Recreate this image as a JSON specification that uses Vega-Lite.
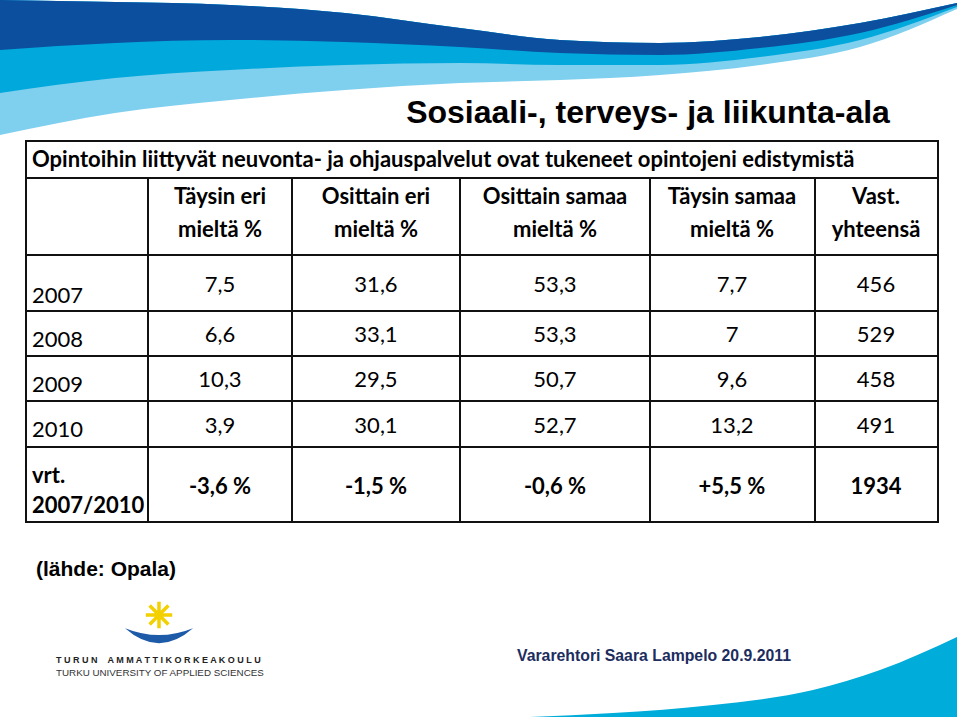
{
  "$schema": "https://vega.github.io/schema/vega-lite/v6.json",
  "width": 960,
  "height": 720,
  "autosize": {"type": "none"},
  "padding": 0,
  "background": "white",
  "config": {
    "view": {"stroke": null},
    "locale": {"number": {"decimal": ",", "thousands": " ", "grouping": [3], "currency": ["", " €"], "minus": "-"}}
  },
  "datasets": {
    "aalto": [
      {"x": 0, "y0": 0, "y1": 50, "y2": 93, "y3": 135},
      {"x": 115, "y0": 2, "y1": 43, "y2": 78, "y3": 113},
      {"x": 230, "y0": 5, "y1": 40, "y2": 70, "y3": 100},
      {"x": 345, "y0": 13, "y1": 42, "y2": 65, "y3": 90},
      {"x": 460, "y0": 28, "y1": 47, "y2": 63, "y3": 83},
      {"x": 560, "y0": 40, "y1": 53, "y2": 65, "y3": 80},
      {"x": 660, "y0": 43, "y1": 55, "y2": 65, "y3": 75},
      {"x": 760, "y0": 37, "y1": 48, "y2": 57, "y3": 65},
      {"x": 860, "y0": 23, "y1": 33, "y2": 40, "y3": 47},
      {"x": 957, "y0": 3, "y1": 5, "y2": 7, "y3": 9}
    ],
    "alaaalto": [
      {"x": 530, "y": 717},
      {"x": 613, "y": 713},
      {"x": 713, "y": 705},
      {"x": 813, "y": 690},
      {"x": 880, "y": 670},
      {"x": 957, "y": 637}
    ],
    "taulukko": [
      {"rivi": 2, "vuosi": "2007", "sarake": 1, "arvo": 7.5},
      {"rivi": 2, "vuosi": "2007", "sarake": 2, "arvo": 31.6},
      {"rivi": 2, "vuosi": "2007", "sarake": 3, "arvo": 53.3},
      {"rivi": 2, "vuosi": "2007", "sarake": 4, "arvo": 7.7},
      {"rivi": 2, "vuosi": "2007", "sarake": 5, "arvo": 456},
      {"rivi": 3, "vuosi": "2008", "sarake": 1, "arvo": 6.6},
      {"rivi": 3, "vuosi": "2008", "sarake": 2, "arvo": 33.1},
      {"rivi": 3, "vuosi": "2008", "sarake": 3, "arvo": 53.3},
      {"rivi": 3, "vuosi": "2008", "sarake": 4, "arvo": 7},
      {"rivi": 3, "vuosi": "2008", "sarake": 5, "arvo": 529},
      {"rivi": 4, "vuosi": "2009", "sarake": 1, "arvo": 10.3},
      {"rivi": 4, "vuosi": "2009", "sarake": 2, "arvo": 29.5},
      {"rivi": 4, "vuosi": "2009", "sarake": 3, "arvo": 50.7},
      {"rivi": 4, "vuosi": "2009", "sarake": 4, "arvo": 9.6},
      {"rivi": 4, "vuosi": "2009", "sarake": 5, "arvo": 458},
      {"rivi": 5, "vuosi": "2010", "sarake": 1, "arvo": 3.9},
      {"rivi": 5, "vuosi": "2010", "sarake": 2, "arvo": 30.1},
      {"rivi": 5, "vuosi": "2010", "sarake": 3, "arvo": 52.7},
      {"rivi": 5, "vuosi": "2010", "sarake": 4, "arvo": 13.2},
      {"rivi": 5, "vuosi": "2010", "sarake": 5, "arvo": 491},
      {"rivi": 6, "vuosi": "vrt. 2007/2010", "sarake": 1, "arvo": -3.6},
      {"rivi": 6, "vuosi": "vrt. 2007/2010", "sarake": 2, "arvo": -1.5},
      {"rivi": 6, "vuosi": "vrt. 2007/2010", "sarake": 3, "arvo": -0.6},
      {"rivi": 6, "vuosi": "vrt. 2007/2010", "sarake": 4, "arvo": 5.5},
      {"rivi": 6, "vuosi": "vrt. 2007/2010", "sarake": 5, "arvo": 1934}
    ],
    "sarakkeet": [
      {"sarake": 1, "otsikko": "Täysin eri\nmieltä %"},
      {"sarake": 2, "otsikko": "Osittain eri\nmieltä %"},
      {"sarake": 3, "otsikko": "Osittain samaa\nmieltä %"},
      {"sarake": 4, "otsikko": "Täysin samaa\nmieltä %"},
      {"sarake": 5, "otsikko": "Vast.\nyhteensä"}
    ],
    "rivit": [
      {"rivi": 2, "nimi": "2007"},
      {"rivi": 3, "nimi": "2008"},
      {"rivi": 4, "nimi": "2009"},
      {"rivi": 5, "nimi": "2010"},
      {"rivi": 6, "nimi": "vrt.\n2007/2010"}
    ],
    "vaakaviivat": [
      {"raja": 0}, {"raja": 1}, {"raja": 2}, {"raja": 3}, {"raja": 4}, {"raja": 5}, {"raja": 6}, {"raja": 7}
    ],
    "pystyviivat": [
      {"raja": 0}, {"raja": 1}, {"raja": 2}, {"raja": 3}, {"raja": 4}, {"raja": 5}, {"raja": 6}
    ]
  },
  "resolve": {"scale": {"x": "independent", "y": "independent"}},
  "layer": [
    {
      "data": {"name": "aalto"},
      "mark": {"type": "area", "interpolate": "monotone", "color": "#7fcfee"},
      "encoding": {
        "x": {"field": "x", "type": "quantitative", "scale": {"domain": [0, 960], "range": [0, 960], "nice": false, "zero": false}, "axis": null},
        "y": {"field": "y0", "type": "quantitative", "scale": {"domain": [0, 720], "range": [0, 720], "nice": false, "zero": false}, "axis": null},
        "y2": {"field": "y3"}
      }
    },
    {
      "data": {"name": "aalto"},
      "mark": {"type": "area", "interpolate": "monotone", "color": "#00a8dc"},
      "encoding": {
        "x": {"field": "x", "type": "quantitative", "scale": {"domain": [0, 960], "range": [0, 960], "nice": false, "zero": false}, "axis": null},
        "y": {"field": "y0", "type": "quantitative", "scale": {"domain": [0, 720], "range": [0, 720], "nice": false, "zero": false}, "axis": null},
        "y2": {"field": "y2"}
      }
    },
    {
      "data": {"name": "aalto"},
      "mark": {"type": "area", "interpolate": "monotone", "color": "#0b4f9e"},
      "encoding": {
        "x": {"field": "x", "type": "quantitative", "scale": {"domain": [0, 960], "range": [0, 960], "nice": false, "zero": false}, "axis": null},
        "y": {"field": "y0", "type": "quantitative", "scale": {"domain": [0, 720], "range": [0, 720], "nice": false, "zero": false}, "axis": null},
        "y2": {"field": "y1"}
      }
    },
    {
      "data": {"name": "alaaalto"},
      "mark": {"type": "area", "interpolate": "monotone", "color": "#00acd9"},
      "encoding": {
        "x": {"field": "x", "type": "quantitative", "scale": {"domain": [0, 960], "range": [0, 960], "nice": false, "zero": false}, "axis": null},
        "y": {"field": "y", "type": "quantitative", "scale": {"domain": [0, 720], "range": [0, 720], "nice": false, "zero": false}, "axis": null},
        "y2": {"datum": 717}
      }
    },
    {
      "data": {"values": [{"teksti": "Sosiaali-, terveys- ja liikunta-ala"}]},
      "mark": {"type": "text", "font": "Liberation Sans Narrow, Liberation Sans, Arial", "fontSize": 32, "fontWeight": "bold", "align": "center", "baseline": "alphabetic", "color": "#000000"},
      "encoding": {
        "x": {"datum": 648, "type": "quantitative", "scale": {"domain": [0, 960], "range": [0, 960], "nice": false, "zero": false}, "axis": null},
        "y": {"datum": 123, "type": "quantitative", "scale": {"domain": [0, 720], "range": [0, 720], "nice": false, "zero": false}, "axis": null},
        "text": {"field": "teksti"}
      }
    },
    {
      "data": {"name": "vaakaviivat"},
      "mark": {"type": "rule", "color": "#111111", "strokeWidth": 2, "strokeCap": "square"},
      "encoding": {
        "y": {"field": "raja", "type": "quantitative", "scale": {"domain": [0, 1, 2, 3, 4, 5, 6, 7], "range": [141, 178, 255, 311, 356, 401, 447, 522], "nice": false, "zero": false}, "axis": null},
        "x": {"datum": 0, "type": "quantitative", "scale": {"domain": [0, 1, 2, 3, 4, 5, 6], "range": [26, 148, 292, 460, 650, 815, 938], "nice": false, "zero": false}, "axis": null},
        "x2": {"datum": 6}
      }
    },
    {
      "data": {"name": "pystyviivat"},
      "mark": {"type": "rule", "color": "#111111", "strokeWidth": 2, "strokeCap": "square"},
      "encoding": {
        "x": {"field": "raja", "type": "quantitative", "scale": {"domain": [0, 1, 2, 3, 4, 5, 6], "range": [26, 148, 292, 460, 650, 815, 938], "nice": false, "zero": false}, "axis": null},
        "y": {"datum": 1, "type": "quantitative", "scale": {"domain": [0, 1, 2, 3, 4, 5, 6, 7], "range": [141, 178, 255, 311, 356, 401, 447, 522], "nice": false, "zero": false}, "axis": null},
        "y2": {"datum": 7}
      }
    },
    {
      "data": {"name": "pystyviivat"},
      "transform": [{"filter": "datum.raja == 0 || datum.raja == 6"}],
      "mark": {"type": "rule", "color": "#111111", "strokeWidth": 2, "strokeCap": "square"},
      "encoding": {
        "x": {"field": "raja", "type": "quantitative", "scale": {"domain": [0, 1, 2, 3, 4, 5, 6], "range": [26, 148, 292, 460, 650, 815, 938], "nice": false, "zero": false}, "axis": null},
        "y": {"datum": 0, "type": "quantitative", "scale": {"domain": [0, 1, 2, 3, 4, 5, 6, 7], "range": [141, 178, 255, 311, 356, 401, 447, 522], "nice": false, "zero": false}, "axis": null},
        "y2": {"datum": 1}
      }
    },
    {
      "data": {"values": [{"teksti": "Opintoihin liittyvät neuvonta- ja ohjauspalvelut ovat tukeneet opintojeni edistymistä"}]},
      "mark": {"type": "text", "font": "Lato", "fontSize": 22, "fontWeight": "bold", "align": "left", "baseline": "middle", "color": "#000000"},
      "encoding": {
        "x": {"datum": 0, "type": "quantitative", "scale": {"domain": [0, 1, 2, 3, 4, 5], "range": [32, 220, 376, 555, 732, 876], "nice": false, "zero": false}, "axis": null},
        "y": {"datum": 0, "type": "quantitative", "scale": {"domain": [0, 1, 2, 3, 4, 5, 6], "range": [160, 197, 285, 335, 380, 426, 487], "nice": false, "zero": false}, "axis": null},
        "text": {"field": "teksti"}
      }
    },
    {
      "data": {"name": "sarakkeet"},
      "mark": {"type": "text", "font": "Lato", "fontSize": 22, "fontWeight": "bold", "align": "center", "baseline": "middle", "lineBreak": "\n", "lineHeight": 33, "color": "#000000"},
      "encoding": {
        "x": {"field": "sarake", "type": "quantitative", "scale": {"domain": [0, 1, 2, 3, 4, 5], "range": [32, 220, 376, 555, 732, 876], "nice": false, "zero": false}, "axis": null},
        "y": {"datum": 1, "type": "quantitative", "scale": {"domain": [0, 1, 2, 3, 4, 5, 6], "range": [160, 197, 285, 335, 380, 426, 487], "nice": false, "zero": false}, "axis": null},
        "text": {"field": "otsikko"}
      }
    },
    {
      "data": {"name": "taulukko"},
      "transform": [{"filter": "datum.rivi < 6"}],
      "mark": {"type": "text", "font": "Lato", "fontSize": 22, "align": "center", "baseline": "middle", "color": "#000000"},
      "encoding": {
        "x": {"field": "sarake", "type": "quantitative", "scale": {"domain": [0, 1, 2, 3, 4, 5], "range": [32, 220, 376, 555, 732, 876], "nice": false, "zero": false}, "axis": null},
        "y": {"field": "rivi", "type": "quantitative", "scale": {"domain": [0, 1, 2, 3, 4, 5, 6], "range": [160, 197, 285, 335, 380, 426, 487], "nice": false, "zero": false}, "axis": null},
        "text": {"field": "arvo", "type": "quantitative", "format": ".1~f"}
      }
    },
    {
      "data": {"name": "taulukko"},
      "transform": [
        {"filter": "datum.rivi == 6"},
        {"calculate": "datum.sarake < 5 ? format(datum.arvo, '+.1f') + ' %' : format(datum.arvo, 'd')", "as": "teksti"}
      ],
      "mark": {"type": "text", "font": "Lato", "fontSize": 22, "fontWeight": "bold", "align": "center", "baseline": "middle", "color": "#000000"},
      "encoding": {
        "x": {"field": "sarake", "type": "quantitative", "scale": {"domain": [0, 1, 2, 3, 4, 5], "range": [32, 220, 376, 555, 732, 876], "nice": false, "zero": false}, "axis": null},
        "y": {"field": "rivi", "type": "quantitative", "scale": {"domain": [0, 1, 2, 3, 4, 5, 6], "range": [160, 197, 285, 335, 380, 426, 487], "nice": false, "zero": false}, "axis": null},
        "text": {"field": "teksti"}
      }
    },
    {
      "data": {"name": "rivit"},
      "transform": [{"filter": "datum.rivi < 6"}],
      "mark": {"type": "text", "font": "Lato", "fontSize": 22, "align": "left", "baseline": "middle", "color": "#000000"},
      "encoding": {
        "x": {"datum": 0, "type": "quantitative", "scale": {"domain": [0, 1, 2, 3, 4, 5], "range": [32, 220, 376, 555, 732, 876], "nice": false, "zero": false}, "axis": null},
        "y": {"field": "rivi", "type": "quantitative", "scale": {"domain": [2, 3, 4, 5, 6], "range": [296, 340, 385, 430, 476], "nice": false, "zero": false}, "axis": null},
        "text": {"field": "nimi"}
      }
    },
    {
      "data": {"name": "rivit"},
      "transform": [{"filter": "datum.rivi == 6"}],
      "mark": {"type": "text", "font": "Lato", "fontSize": 22, "fontWeight": "bold", "align": "left", "baseline": "middle", "lineBreak": "\n", "lineHeight": 30, "color": "#000000"},
      "encoding": {
        "x": {"datum": 0, "type": "quantitative", "scale": {"domain": [0, 1, 2, 3, 4, 5], "range": [32, 220, 376, 555, 732, 876], "nice": false, "zero": false}, "axis": null},
        "y": {"field": "rivi", "type": "quantitative", "scale": {"domain": [2, 3, 4, 5, 6], "range": [296, 340, 385, 430, 476], "nice": false, "zero": false}, "axis": null},
        "text": {"field": "nimi"}
      }
    },
    {
      "data": {"values": [{"teksti": "(lähde: Opala)"}]},
      "mark": {"type": "text", "font": "Liberation Sans, Arial", "fontSize": 21, "fontWeight": "bold", "align": "left", "baseline": "alphabetic", "color": "#000000"},
      "encoding": {
        "x": {"datum": 36, "type": "quantitative", "scale": {"domain": [0, 960], "range": [0, 960], "nice": false, "zero": false}, "axis": null},
        "y": {"datum": 576, "type": "quantitative", "scale": {"domain": [0, 720], "range": [0, 720], "nice": false, "zero": false}, "axis": null},
        "text": {"field": "teksti"}
      }
    },
    {
      "data": {"values": [{"osa": "aurinko"}]},
      "mark": {"type": "point", "shape": "M0,-1L0,1M-1,0L1,0M-0.71,-0.71L0.71,0.71M-0.71,0.71L0.71,-0.71", "filled": false, "stroke": "#f3d000", "strokeWidth": 3.5, "size": 700, "opacity": 1},
      "encoding": {
        "x": {"datum": 159, "type": "quantitative", "scale": {"domain": [0, 960], "range": [0, 960], "nice": false, "zero": false}, "axis": null},
        "y": {"datum": 615, "type": "quantitative", "scale": {"domain": [0, 720], "range": [0, 720], "nice": false, "zero": false}, "axis": null}
      }
    },
    {
      "data": {"values": [{"osa": "kuu"}]},
      "mark": {"type": "point", "shape": "M-1,-0.2Q0,0.2,1,-0.2Q0,0.68,-1,-0.2Z", "filled": true, "fill": "#1d5aa8", "strokeWidth": 0, "size": 4624, "opacity": 1},
      "encoding": {
        "x": {"datum": 159, "type": "quantitative", "scale": {"domain": [0, 960], "range": [0, 960], "nice": false, "zero": false}, "axis": null},
        "y": {"datum": 635, "type": "quantitative", "scale": {"domain": [0, 720], "range": [0, 720], "nice": false, "zero": false}, "axis": null}
      }
    },
    {
      "data": {"values": [{"teksti": "T U R U N \u00a0 \u00a0A M M A T T I K O R K E A K O U L U"}]},
      "mark": {"type": "text", "font": "Liberation Sans, Arial", "fontSize": 9, "fontWeight": "bold", "align": "left", "baseline": "middle", "color": "#222222"},
      "encoding": {
        "x": {"datum": 56, "type": "quantitative", "scale": {"domain": [0, 960], "range": [0, 960], "nice": false, "zero": false}, "axis": null},
        "y": {"datum": 660, "type": "quantitative", "scale": {"domain": [0, 720], "range": [0, 720], "nice": false, "zero": false}, "axis": null},
        "text": {"field": "teksti"}
      }
    },
    {
      "data": {"values": [{"teksti": "TURKU UNIVERSITY OF APPLIED SCIENCES"}]},
      "mark": {"type": "text", "font": "Liberation Sans, Arial", "fontSize": 9.8, "align": "left", "baseline": "middle", "color": "#333333"},
      "encoding": {
        "x": {"datum": 56, "type": "quantitative", "scale": {"domain": [0, 960], "range": [0, 960], "nice": false, "zero": false}, "axis": null},
        "y": {"datum": 673, "type": "quantitative", "scale": {"domain": [0, 720], "range": [0, 720], "nice": false, "zero": false}, "axis": null},
        "text": {"field": "teksti"}
      }
    },
    {
      "data": {"values": [{"teksti": "Vararehtori Saara Lampelo 20.9.2011"}]},
      "mark": {"type": "text", "font": "Liberation Sans, Arial", "fontSize": 15.8, "fontWeight": "bold", "align": "left", "baseline": "alphabetic", "color": "#1c2d5e"},
      "encoding": {
        "x": {"datum": 517, "type": "quantitative", "scale": {"domain": [0, 960], "range": [0, 960], "nice": false, "zero": false}, "axis": null},
        "y": {"datum": 661, "type": "quantitative", "scale": {"domain": [0, 720], "range": [0, 720], "nice": false, "zero": false}, "axis": null},
        "text": {"field": "teksti"}
      }
    }
  ]
}
